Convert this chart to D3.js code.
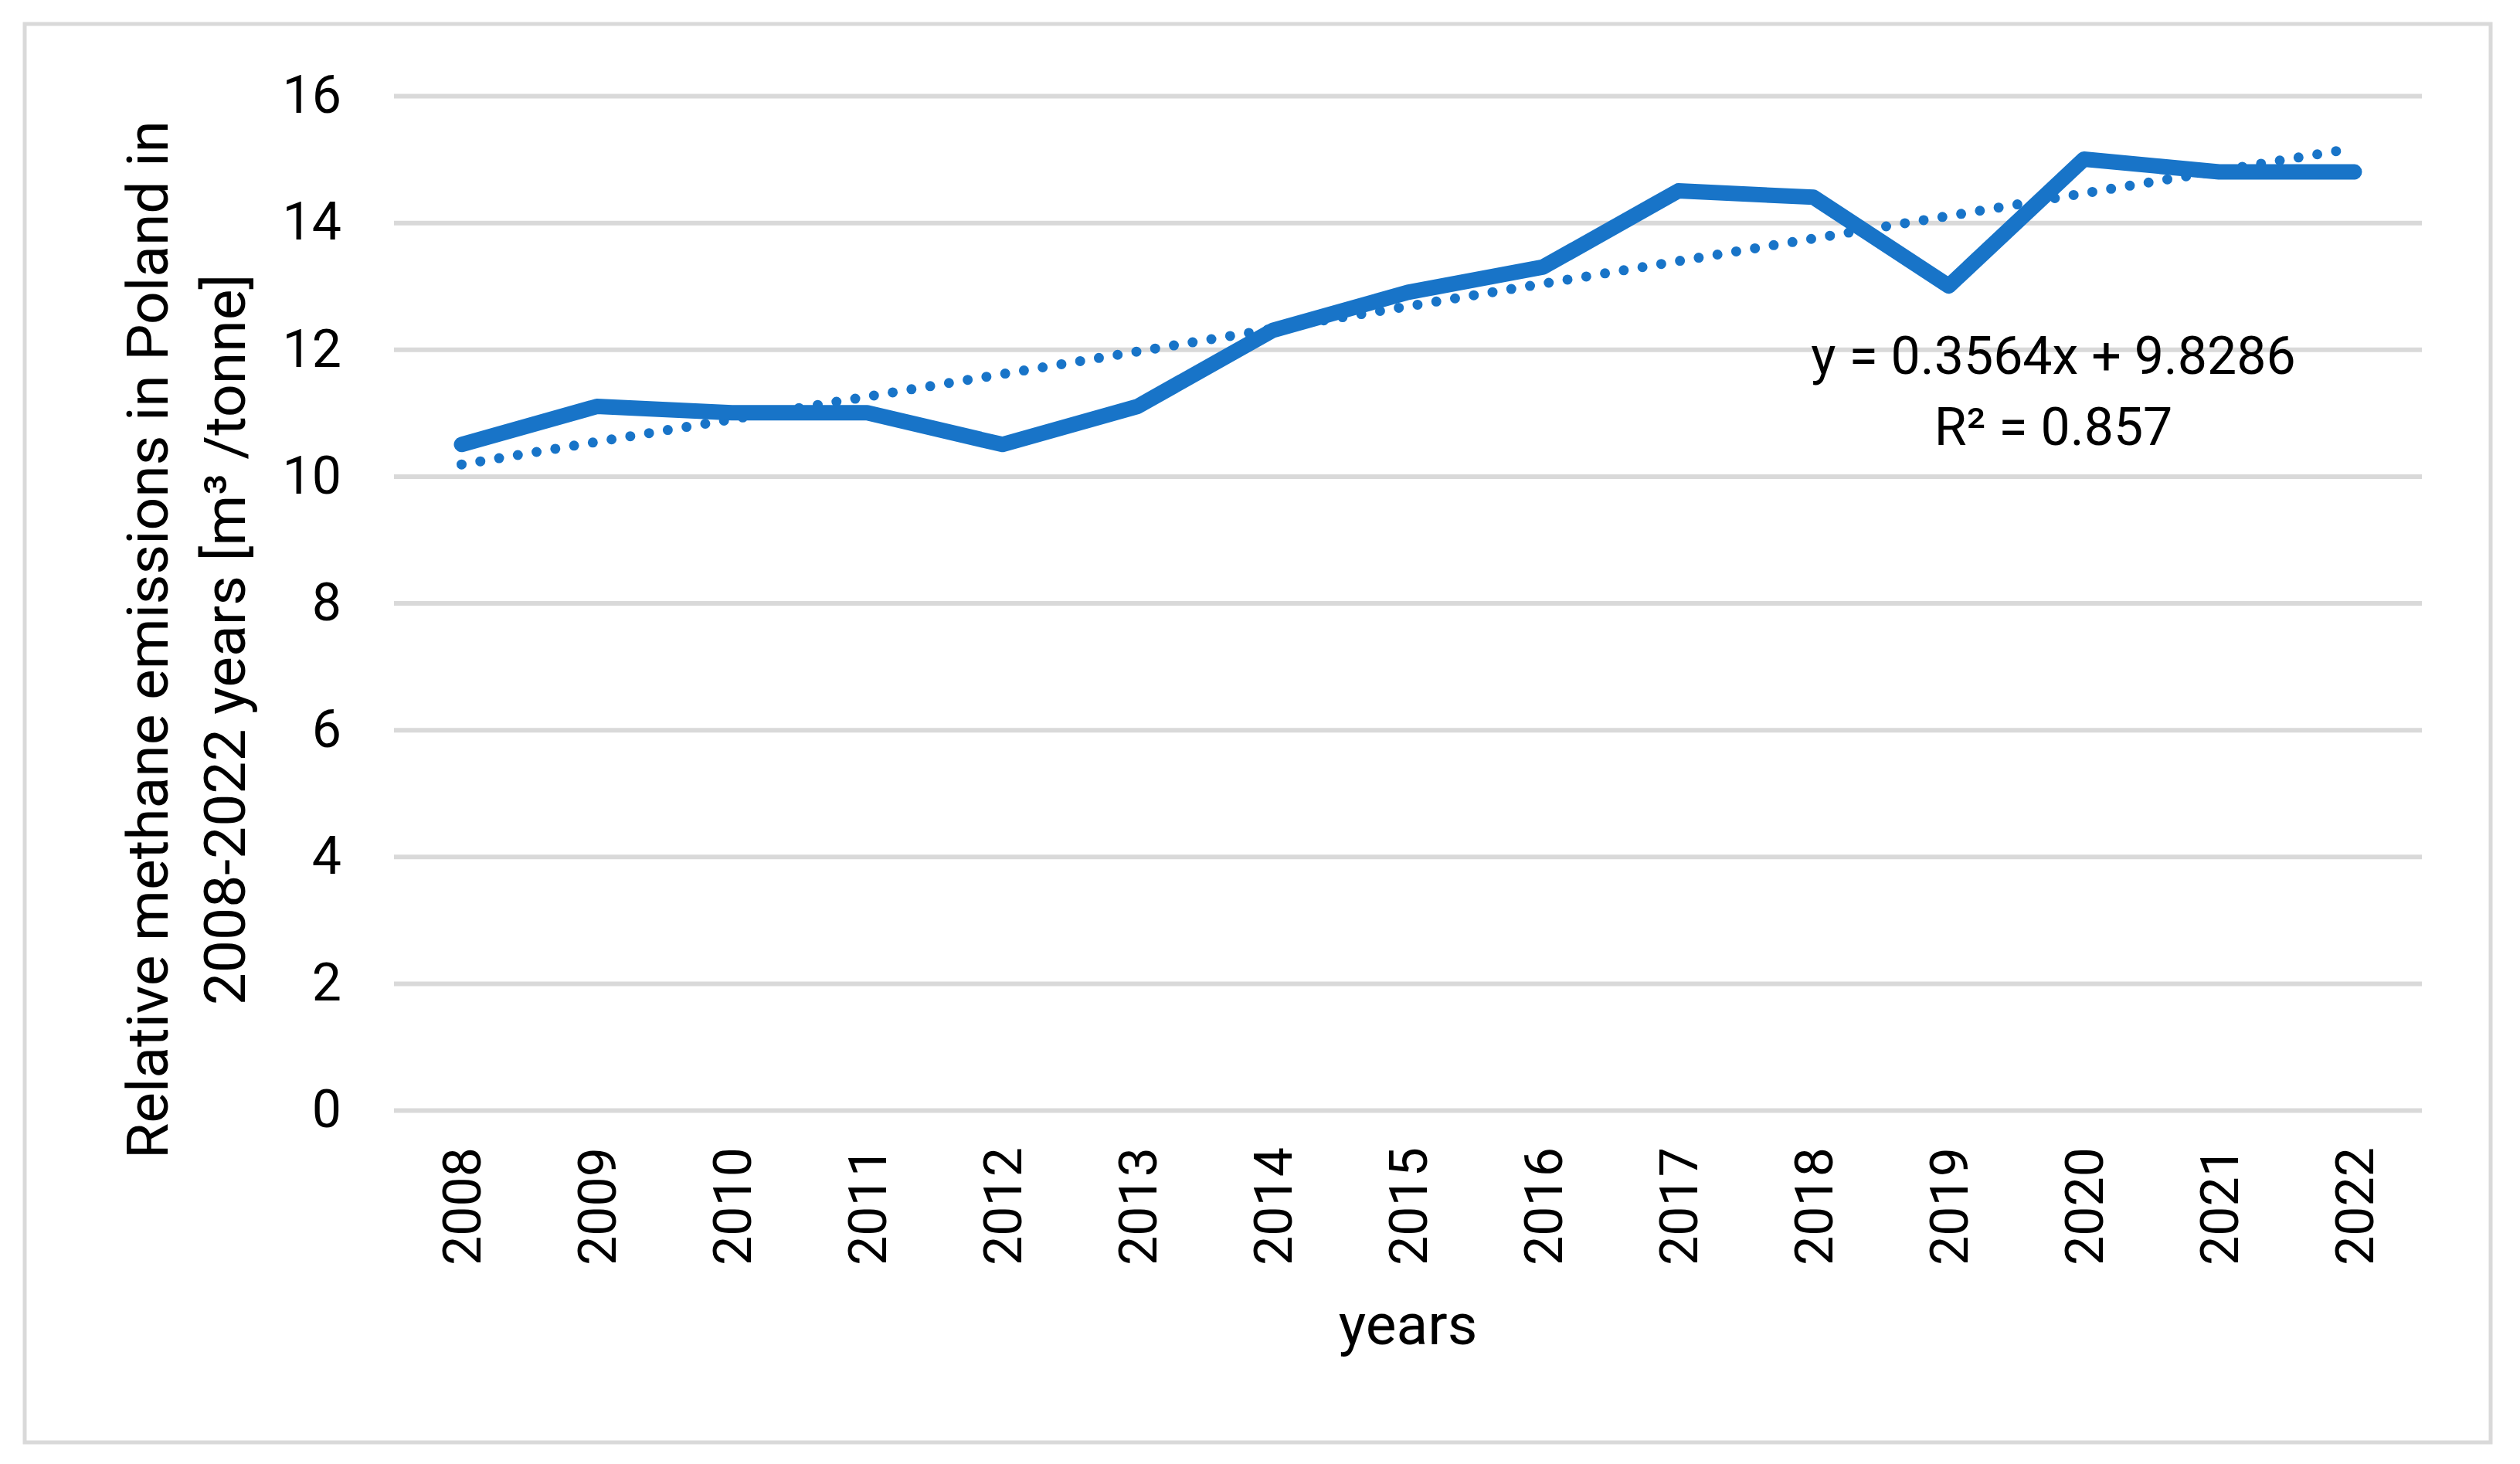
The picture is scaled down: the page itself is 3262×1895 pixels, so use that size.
<!DOCTYPE html>
<html>
<head>
<meta charset="utf-8">
<script src="https://cdn.jsdelivr.net/npm/d3@7"></script>
<style>
  html, body { margin: 0; padding: 0; background: #fff; }
  svg { display: block; }
</style>
</head>
<body>
<svg id="chart"></svg>
<script>
// data
const years = ["2008", "2009", "2010", "2011", "2012", "2013", "2014", "2015",
               "2016", "2017", "2018", "2019", "2020", "2021", "2022"];
const emissions = [10.5, 11.1, 11.0, 11.0, 10.5, 11.1, 12.3, 12.9,
                   13.3, 14.5, 14.4, 13.0, 15.0, 14.8, 14.8];
const yTicks = [0, 2, 4, 6, 8, 10, 12, 14, 16];
const trendSlope = 0.3564;
const trendIntercept = 9.8286;
const trendR2 = 0.857;

const yTitleLines = ["Relative methane emissions in Poland in",
                     "2008-2022 years [m\u00b3 /tonne]"];
const xTitle = "years";

const config = {
    width: 3262,
    height: 1895,
    margin: {top: 124, right: 127, bottom: 458, left: 510},
    lineColor: "#1874c8",
    gridColor: "#d9d9d9",
    font: "Roboto, 'Open Sans', sans-serif"
};

const svg = d3.select("#chart")
    .attr("width", config.width)
    .attr("height", config.height)
    .attr("viewBox", [0, 0, config.width, config.height])
    .attr("font-family", config.font);

svg.append("rect")
    .attr("width", config.width).attr("height", config.height)
    .attr("fill", "#fff");

// outer frame
svg.append("rect")
    .attr("x", 32).attr("y", 31)
    .attr("width", 3192).attr("height", 1836)
    .attr("fill", "none")
    .attr("stroke", config.gridColor)
    .attr("stroke-width", 5);

const x = d3.scaleBand()
    .domain(years)
    .range([config.margin.left, config.width - config.margin.right]);

const y = d3.scaleLinear()
    .domain([0, 16])
    .range([config.height - config.margin.bottom, config.margin.top]);

const cx = d => x(d) + x.bandwidth() / 2;

// gridlines + y labels
const yAxis = g => g
    .attr("transform", `translate(${config.margin.left},0)`)
    .call(d3.axisLeft(y)
        .tickValues(yTicks)
        .tickSize(-(x.range()[1] - x.range()[0]))
        .tickPadding(68)
        .tickFormat(d3.format("d")))
    .call(g => g.select(".domain").remove())
    .call(g => g.selectAll(".tick line")
        .attr("stroke", config.gridColor)
        .attr("stroke-width", 6))
    .call(g => g.selectAll(".tick text")
        .attr("fill", "#000")
        .attr("font-size", 68)
        .attr("font-family", config.font));

svg.append("g").call(yAxis);

// x labels, rotated
const xAxis = g => g
    .attr("transform", `translate(0,${y(0)})`)
    .call(d3.axisBottom(x).tickSize(0).tickPadding(0))
    .call(g => g.select(".domain").remove())
    .call(g => g.selectAll(".tick text")
        .attr("fill", "#000")
        .attr("font-size", 68)
        .attr("font-family", config.font)
        .attr("text-anchor", "end")
        .attr("transform", "rotate(-90)")
        .attr("x", -48)
        .attr("y", 0)
        .attr("dy", "0.36em"));

svg.append("g").call(xAxis);

// trend line (dotted)
const trend = years.map((yr, i) => [yr, trendSlope * (i + 1) + trendIntercept]);

svg.append("path")
    .datum(trend)
    .attr("fill", "none")
    .attr("stroke", config.lineColor)
    .attr("stroke-width", 13)
    .attr("stroke-linecap", "round")
    .attr("stroke-dasharray", "0 24.6")
    .attr("d", d3.line().x(d => cx(d[0])).y(d => y(d[1])));

// main series
svg.append("path")
    .datum(years.map((yr, i) => [yr, emissions[i]]))
    .attr("fill", "none")
    .attr("stroke", config.lineColor)
    .attr("stroke-width", 20)
    .attr("stroke-linecap", "round")
    .attr("stroke-linejoin", "round")
    .attr("d", d3.line().x(d => cx(d[0])).y(d => y(d[1])));

// trendline label
const eq = svg.append("g")
    .attr("font-size", 68)
    .attr("text-anchor", "middle")
    .attr("fill", "#000");

eq.append("text")
    .attr("x", 2658).attr("y", 484)
    .text(`y = ${trendSlope}x + ${trendIntercept}`);

eq.append("text")
    .attr("x", 2658).attr("y", 576)
    .text(`R\u00b2 = ${trendR2}`);

// axis titles
svg.append("text")
    .attr("x", (x.range()[0] + x.range()[1]) / 2)
    .attr("y", 1740)
    .attr("text-anchor", "middle")
    .attr("font-size", 75)
    .text(xTitle);

const yTitle = svg.append("text")
    .attr("transform", "translate(217,828) rotate(-90)")
    .attr("text-anchor", "middle")
    .attr("font-size", 75);

yTitle.selectAll("tspan")
    .data(yTitleLines)
    .join("tspan")
    .attr("x", 0)
    .attr("y", (d, i) => i * 100)
    .text(d => d);
</script>
</body>
</html>
